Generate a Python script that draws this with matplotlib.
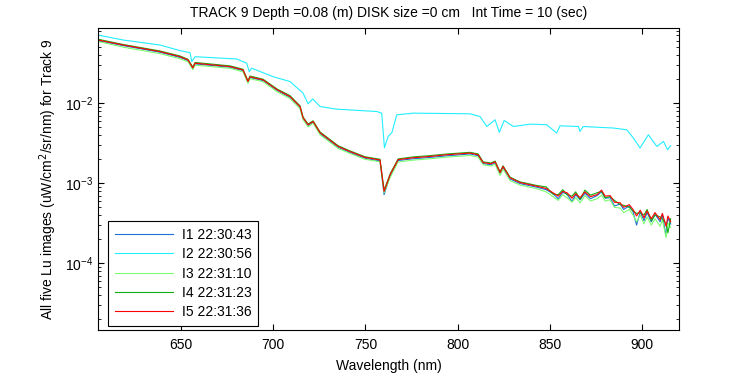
import numpy as np
import matplotlib
matplotlib.use("Agg")
import matplotlib.pyplot as plt

plt.rcParams['font.family'] = ['Liberation Sans', 'DejaVu Sans']

# wavelengths (nm) shared by I1, I3, I4, I5
wl = [605.0, 618.6, 638.6, 649.5, 653.8, 656.4, 657.6, 676.6, 683.6, 686.3,
      687.4, 694.5, 702.1, 709.1, 714.5, 716.2, 718.9, 721.6, 725.4, 735.2,
      741.7, 749.8, 757.9, 760.1, 763.4, 767.7, 775.8, 785.0, 794.3, 806.7,
      811.1, 813.8, 818.0, 820.3, 823.0, 824.6, 828.4, 833.8, 843.1,
      848.0, 851.7, 854.5, 857.0, 859.3, 862.0, 864.0, 866.4, 869.0, 872.0,
      875.6, 878.0, 880.0, 882.7, 885.0, 888.1, 890.0, 893.0, 895.1, 897.0,
      899.0, 901.0, 902.7, 905.0, 907.0, 909.8, 911.0, 913.0, 914.0, 915.5]

i1 = [0.0605, 0.0523, 0.0432, 0.0372, 0.0340, 0.0270, 0.0309, 0.0281, 0.0255, 0.0183,
      0.0209, 0.0191, 0.0144, 0.0118, 0.00885, 0.00640, 0.00525, 0.00578, 0.00417, 0.00281,
      0.00242, 0.00205, 0.00190, 0.00072, 0.00124, 0.00192, 0.00202, 0.00210, 0.00220, 0.00232,
      0.00221, 0.00176, 0.00170, 0.00180, 0.00132, 0.00157, 0.00113, 0.00099, 0.000890,
      0.00083, 0.00074, 0.00064, 0.00077, 0.00073, 0.00059, 0.00072, 0.00062, 0.00075, 0.00064,
      0.00070, 0.00078, 0.00065, 0.00066, 0.00052, 0.00055, 0.00047, 0.00052, 0.00044, 0.00030,
      0.00044, 0.00034, 0.00043, 0.00033, 0.00041, 0.00033, 0.00040, 0.00022, 0.00037, 0.00031]

i3 = [0.0590, 0.0500, 0.0415, 0.0358, 0.0328, 0.0262, 0.0298, 0.0272, 0.0246, 0.0177,
      0.0202, 0.0185, 0.0139, 0.0114, 0.00855, 0.00620, 0.00505, 0.00560, 0.00402, 0.00272,
      0.00235, 0.00199, 0.00185, 0.00076, 0.00118, 0.00184, 0.00194, 0.00202, 0.00212, 0.00222,
      0.00212, 0.00170, 0.00164, 0.00172, 0.00125, 0.00150, 0.00108, 0.00095, 0.000850,
      0.00078, 0.00068, 0.00061, 0.00072, 0.00066, 0.00058, 0.00066, 0.00057, 0.00070, 0.00060,
      0.00064, 0.00071, 0.00060, 0.00062, 0.00050, 0.00049, 0.00043, 0.00047, 0.00040, 0.00033,
      0.00040, 0.00031, 0.00038, 0.00030, 0.00036, 0.00029, 0.00035, 0.00021, 0.00032, 0.00028]

i4 = [0.0628, 0.0540, 0.0448, 0.0388, 0.0352, 0.0282, 0.0322, 0.0292, 0.0265, 0.0190,
      0.0218, 0.0199, 0.0150, 0.0124, 0.00925, 0.00668, 0.00548, 0.00602, 0.00436, 0.00294,
      0.00253, 0.00214, 0.00199, 0.00082, 0.00131, 0.00201, 0.00213, 0.00221, 0.00232, 0.00243,
      0.00232, 0.00185, 0.00179, 0.00189, 0.00139, 0.00165, 0.00119, 0.00104, 0.000935,
      0.00090, 0.00073, 0.00072, 0.00083, 0.00072, 0.00069, 0.00078, 0.00063, 0.00082, 0.00071,
      0.00076, 0.00079, 0.00066, 0.00068, 0.00061, 0.00054, 0.00053, 0.00050, 0.00045, 0.00042,
      0.00043, 0.00040, 0.00047, 0.00034, 0.00040, 0.00038, 0.00036, 0.00031, 0.00024, 0.00036]

i5 = [0.0614, 0.0532, 0.0440, 0.0380, 0.0346, 0.0275, 0.0315, 0.0286, 0.0260, 0.0186,
      0.0213, 0.0195, 0.0147, 0.0121, 0.00907, 0.00656, 0.00537, 0.00590, 0.00427, 0.00288,
      0.00248, 0.00210, 0.00195, 0.00079, 0.00128, 0.00197, 0.00208, 0.00216, 0.00227, 0.00238,
      0.00227, 0.00181, 0.00175, 0.00185, 0.00136, 0.00162, 0.00117, 0.00102, 0.000915,
      0.00086, 0.00076, 0.00069, 0.00079, 0.00076, 0.00065, 0.00074, 0.00066, 0.00078, 0.00068,
      0.00072, 0.00082, 0.00069, 0.00070, 0.00058, 0.00057, 0.00050, 0.00054, 0.00047, 0.00039,
      0.00046, 0.00037, 0.00045, 0.00036, 0.00043, 0.00035, 0.00042, 0.00029, 0.00039, 0.00033]

# I2 has its own wavelength samples
wl_i2 = [605.0, 618.6, 638.6, 649.5, 654.9, 655.8, 657.6, 680.2, 685.6, 687.0,
         688.3, 699.9, 709.1, 716.2, 718.9, 721.4, 725.4, 734.4, 756.1, 758.8,
         760.3, 762.3, 764.3, 767.0, 775.8, 806.7, 812.1, 815.8, 820.3, 822.6,
         825.2, 830.2, 839.3, 848.3, 853.7, 855.5, 865.5, 866.3, 868.1, 884.4,
         891.7, 895.3, 898.9, 903.4, 908.0, 911.6, 913.8, 915.5]
i2 = [0.0708, 0.0614, 0.0532, 0.0452, 0.0427, 0.0330, 0.0380, 0.0356, 0.0315, 0.0247,
      0.0273, 0.0214, 0.0186, 0.0133, 0.0098, 0.0113, 0.00907, 0.00841, 0.00786, 0.00750,
      0.00277, 0.00384, 0.00427, 0.00715, 0.00750, 0.00736, 0.00681, 0.00511, 0.00619, 0.00431,
      0.00607, 0.00511, 0.00547, 0.00537, 0.00423, 0.00521, 0.00511, 0.00443, 0.00511, 0.00489,
      0.00465, 0.00366, 0.00275, 0.00403, 0.00288, 0.00333, 0.00262, 0.00294]

labels = ['I1 22:30:43', 'I2 22:30:56', 'I3 22:31:10', 'I4 22:31:23', 'I5 22:31:36']
colors = ['#1f6fd8', '#22eeff', '#7cff6e', '#10b010', '#ff0000']

fig = plt.figure(figsize=(7.5, 3.75), dpi=100)
ax = fig.add_axes([0.1307, 0.12, 0.7746, 0.8053])

series = [(wl, i1), (wl_i2, i2), (wl, i3), (wl, i4), (wl, i5)]
for (x, y), lab, c in zip(series, labels, colors):
    ax.plot(x, y, color=c, lw=0.8, label=lab)

ax.set_yscale('log')
ax.set_xlim(605, 920)
ax.set_ylim(1.47e-5, 0.0867)
ax.set_xticks([650, 700, 750, 800, 850, 900])
ax.tick_params(which='both', direction='in', top=True, right=True, labelsize=10)
ax.tick_params(which='major', length=4)
ax.tick_params(which='minor', length=2)
ax.tick_params(axis='x', pad=6)

ax.set_xlabel('Wavelength (nm)', fontsize=10, labelpad=5)
ax.set_ylabel('All five Lu images (uW/cm$^2$/sr/nm) for Track 9', fontsize=10)
ax.set_title('TRACK 9 Depth =0.08 (m) DISK size =0 cm   Int Time = 10 (sec)',
             fontsize=10, pad=8)

leg = ax.legend(loc='lower left', bbox_to_anchor=(0.017, 0.013), fontsize=10,
                handlelength=4.2, handletextpad=0.6, fancybox=False, framealpha=1,
                edgecolor='black', borderaxespad=0, labelspacing=0.38,
                borderpad=0.5)
leg.get_frame().set_linewidth(0.8)

fig.savefig('out.png', dpi=100)
